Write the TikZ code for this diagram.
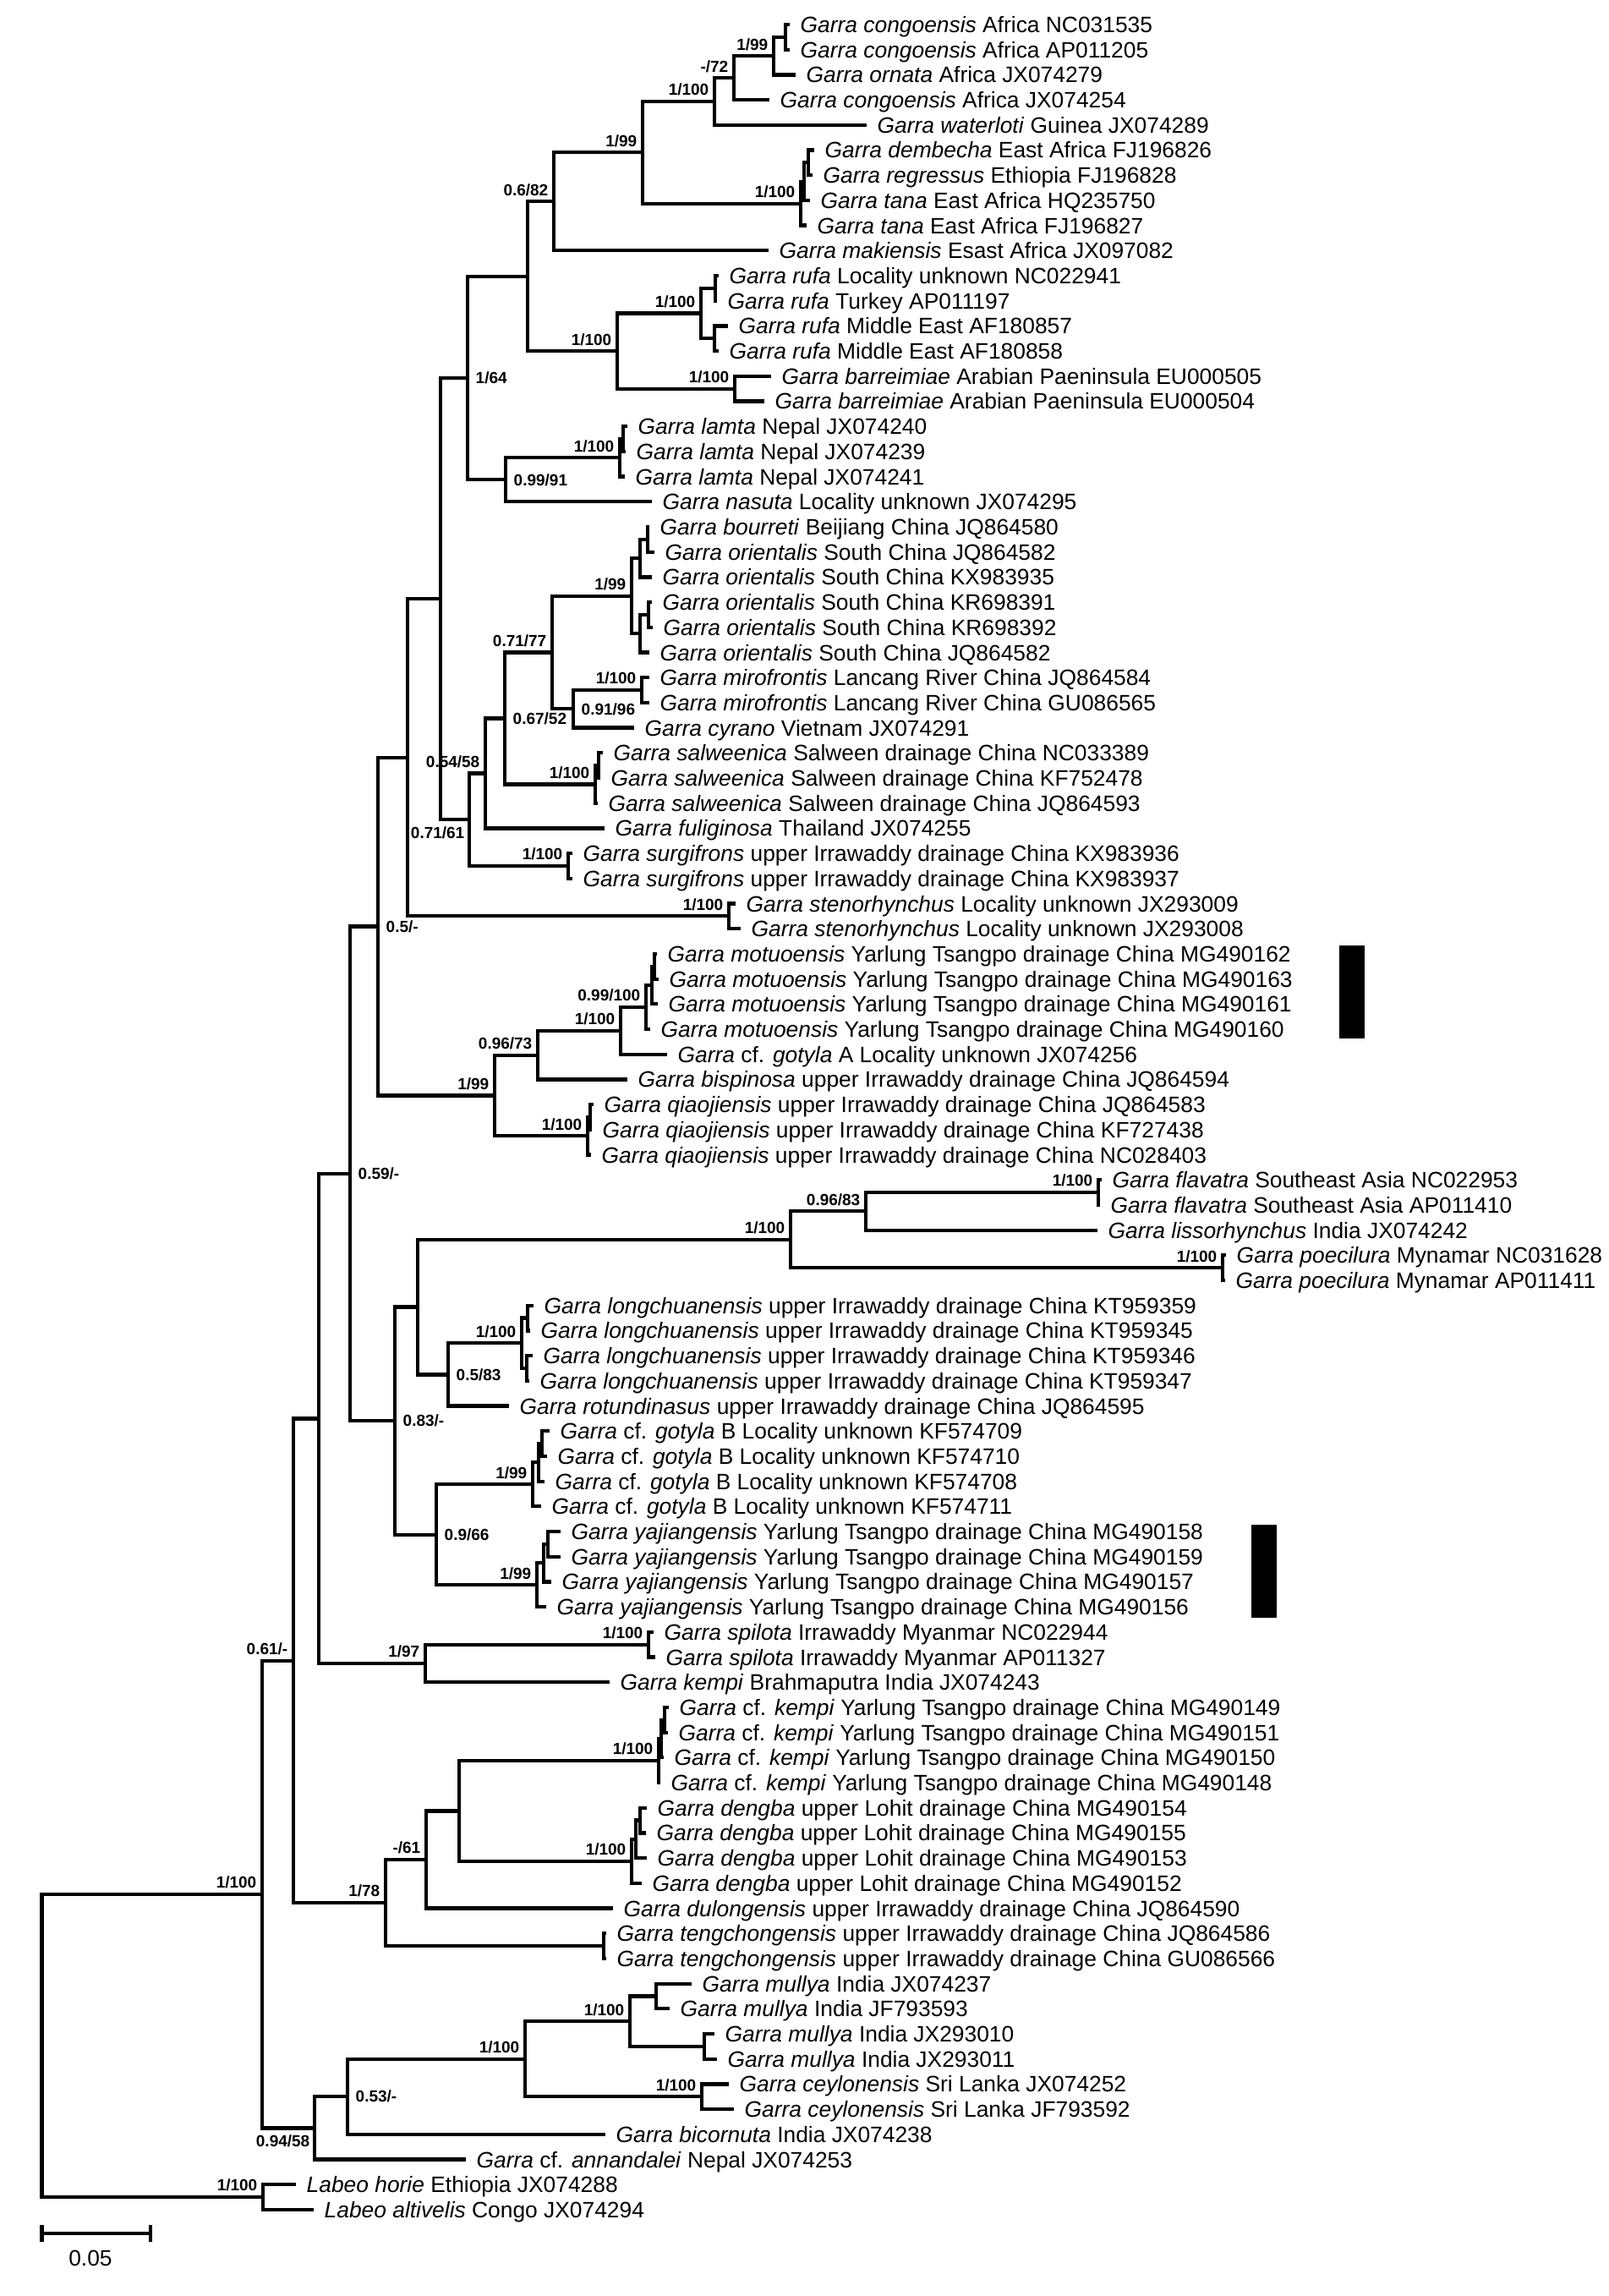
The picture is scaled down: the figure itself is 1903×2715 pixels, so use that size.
\documentclass[tikz,border=0pt]{standalone}
\usepackage{fontspec}
\setmainfont{Liberation Sans}
\usetikzlibrary{positioning, calc}

% innerer Knoten: x fest, y in der Mitte der beiden Kinder
\newcommand{\inode}[4]{\path let \p1=($(#3)!0.5!(#4)$) in ({#2*0.01cm},\y1) coordinate (#1);}

\begin{document}
\begin{tikzpicture}[
    x=0.01cm, y=-0.01cm,
    branch/.style={line width=1.2pt},
    taxon/.style={inner sep=0pt, text height=5.6pt, text depth=0.2pt, font=\fontsize{7.5}{9}\selectfont},
    sup/.style={inner sep=0pt, font=\fontsize{5.4}{6}\selectfont\bfseries},
    supl/.style={sup, anchor=south east, xshift=-0.6mm, yshift=0.6mm},
    supr/.style={sup, anchor=west, xshift=0.9mm},
    supb/.style={sup, anchor=north east, xshift=-0.5mm, yshift=-0.8mm},
    tagbar/.style={fill=black, inner sep=0pt, minimum width=0.3cm, minimum height=1.1cm}
]
\useasboundingbox (0,0) rectangle (1903,2715);

% Blätter
\coordinate (t01) at (934,29.0);
\node[taxon, right=1.2mm of t01] (l01) {\textit{Garra congoensis} Africa NC031535};
\coordinate (t02) at (934,58.7);
\node[taxon, right=1.2mm of t02] (l02) {\textit{Garra congoensis} Africa AP011205};
\coordinate (t03) at (941,88.4);
\node[taxon, right=1.2mm of t03] (l03) {\textit{Garra ornata} Africa JX074279};
\coordinate (t04) at (910,118.1);
\node[taxon, right=1.2mm of t04] (l04) {\textit{Garra congoensis} Africa JX074254};
\coordinate (t05) at (1025,147.8);
\node[taxon, right=1.2mm of t05] (l05) {\textit{Garra waterloti} Guinea JX074289};
\coordinate (t06) at (963,177.5);
\node[taxon, right=1.2mm of t06] (l06) {\textit{Garra dembecha} East Africa FJ196826};
\coordinate (t07) at (961,207.2);
\node[taxon, right=1.2mm of t07] (l07) {\textit{Garra regressus} Ethiopia FJ196828};
\coordinate (t08) at (958,236.9);
\node[taxon, right=1.2mm of t08] (l08) {\textit{Garra tana} East Africa HQ235750};
\coordinate (t09) at (954,266.6);
\node[taxon, right=1.2mm of t09] (l09) {\textit{Garra tana} East Africa FJ196827};
\coordinate (t10) at (909,296.3);
\node[taxon, right=1.2mm of t10] (l10) {\textit{Garra makiensis} Esast Africa JX097082};
\coordinate (t11) at (850,326.0);
\node[taxon, right=1.2mm of t11] (l11) {\textit{Garra rufa} Locality unknown NC022941};
\coordinate (t12) at (848,355.7);
\node[taxon, right=1.2mm of t12] (l12) {\textit{Garra rufa} Turkey AP011197};
\coordinate (t13) at (861,385.4);
\node[taxon, right=1.2mm of t13] (l13) {\textit{Garra rufa} Middle East AF180857};
\coordinate (t14) at (850,415.1);
\node[taxon, right=1.2mm of t14] (l14) {\textit{Garra rufa} Middle East AF180858};
\coordinate (t15) at (912,444.8);
\node[taxon, right=1.2mm of t15] (l15) {\textit{Garra barreimiae} Arabian Paeninsula EU000505};
\coordinate (t16) at (904,474.5);
\node[taxon, right=1.2mm of t16] (l16) {\textit{Garra barreimiae} Arabian Paeninsula EU000504};
\coordinate (t17) at (742,504.2);
\node[taxon, right=1.2mm of t17] (l17) {\textit{Garra lamta} Nepal JX074240};
\coordinate (t18) at (740,533.9);
\node[taxon, right=1.2mm of t18] (l18) {\textit{Garra lamta} Nepal JX074239};
\coordinate (t19) at (739,563.6);
\node[taxon, right=1.2mm of t19] (l19) {\textit{Garra lamta} Nepal JX074241};
\coordinate (t20) at (771,593.3);
\node[taxon, right=1.2mm of t20] (l20) {\textit{Garra nasuta} Locality unknown JX074295};
\coordinate (t21) at (768,623.0);
\node[taxon, right=1.2mm of t21] (l21) {\textit{Garra bourreti} Beijiang China JQ864580};
\coordinate (t22) at (774,652.7);
\node[taxon, right=1.2mm of t22] (l22) {\textit{Garra orientalis} South China JQ864582};
\coordinate (t23) at (771,682.4);
\node[taxon, right=1.2mm of t23] (l23) {\textit{Garra orientalis} South China KX983935};
\coordinate (t24) at (771,712.1);
\node[taxon, right=1.2mm of t24] (l24) {\textit{Garra orientalis} South China KR698391};
\coordinate (t25) at (772,741.8);
\node[taxon, right=1.2mm of t25] (l25) {\textit{Garra orientalis} South China KR698392};
\coordinate (t26) at (768,771.5);
\node[taxon, right=1.2mm of t26] (l26) {\textit{Garra orientalis} South China JQ864582};
\coordinate (t27) at (768,801.2);
\node[taxon, right=1.2mm of t27] (l27) {\textit{Garra mirofrontis} Lancang River China JQ864584};
\coordinate (t28) at (768,830.9);
\node[taxon, right=1.2mm of t28] (l28) {\textit{Garra mirofrontis} Lancang River China GU086565};
\coordinate (t29) at (750,860.6);
\node[taxon, right=1.2mm of t29] (l29) {\textit{Garra cyrano} Vietnam JX074291};
\coordinate (t30) at (713,890.3);
\node[taxon, right=1.2mm of t30] (l30) {\textit{Garra salweenica} Salween drainage China NC033389};
\coordinate (t31) at (710,920.0);
\node[taxon, right=1.2mm of t31] (l31) {\textit{Garra salweenica} Salween drainage China KF752478};
\coordinate (t32) at (707,949.7);
\node[taxon, right=1.2mm of t32] (l32) {\textit{Garra salweenica} Salween drainage China JQ864593};
\coordinate (t33) at (715,979.4);
\node[taxon, right=1.2mm of t33] (l33) {\textit{Garra fuliginosa} Thailand JX074255};
\coordinate (t34) at (677,1009.1);
\node[taxon, right=1.2mm of t34] (l34) {\textit{Garra surgifrons} upper Irrawaddy drainage China KX983936};
\coordinate (t35) at (677,1038.8);
\node[taxon, right=1.2mm of t35] (l35) {\textit{Garra surgifrons} upper Irrawaddy drainage China KX983937};
\coordinate (t36) at (870,1068.5);
\node[taxon, right=1.2mm of t36] (l36) {\textit{Garra stenorhynchus} Locality unknown JX293009};
\coordinate (t37) at (876,1098.2);
\node[taxon, right=1.2mm of t37] (l37) {\textit{Garra stenorhynchus} Locality unknown JX293008};
\coordinate (t38) at (777,1127.9);
\node[taxon, right=1.2mm of t38] (l38) {\textit{Garra motuoensis} Yarlung Tsangpo drainage China MG490162};
\coordinate (t39) at (779,1157.6);
\node[taxon, right=1.2mm of t39] (l39) {\textit{Garra motuoensis} Yarlung Tsangpo drainage China MG490163};
\coordinate (t40) at (778,1187.3);
\node[taxon, right=1.2mm of t40] (l40) {\textit{Garra motuoensis} Yarlung Tsangpo drainage China MG490161};
\coordinate (t41) at (769,1217.0);
\node[taxon, right=1.2mm of t41] (l41) {\textit{Garra motuoensis} Yarlung Tsangpo drainage China MG490160};
\coordinate (t42) at (789,1246.7);
\node[taxon, right=1.2mm of t42] (l42) {\textit{Garra} cf. \textit{gotyla} A Locality unknown JX074256};
\coordinate (t43) at (742,1276.4);
\node[taxon, right=1.2mm of t43] (l43) {\textit{Garra bispinosa} upper Irrawaddy drainage China JQ864594};
\coordinate (t44) at (702,1306.1);
\node[taxon, right=1.2mm of t44] (l44) {\textit{Garra qiaojiensis} upper Irrawaddy drainage China JQ864583};
\coordinate (t45) at (700,1335.8);
\node[taxon, right=1.2mm of t45] (l45) {\textit{Garra qiaojiensis} upper Irrawaddy drainage China KF727438};
\coordinate (t46) at (699,1365.5);
\node[taxon, right=1.2mm of t46] (l46) {\textit{Garra qiaojiensis} upper Irrawaddy drainage China NC028403};
\coordinate (t47) at (1303,1395.2);
\node[taxon, right=1.2mm of t47] (l47) {\textit{Garra flavatra} Southeast Asia NC022953};
\coordinate (t48) at (1301,1424.9);
\node[taxon, right=1.2mm of t48] (l48) {\textit{Garra flavatra} Southeast Asia AP011410};
\coordinate (t49) at (1298,1454.6);
\node[taxon, right=1.2mm of t49] (l49) {\textit{Garra lissorhynchus} India JX074242};
\coordinate (t50) at (1450,1484.3);
\node[taxon, right=1.2mm of t50] (l50) {\textit{Garra poecilura} Mynamar NC031628};
\coordinate (t51) at (1449,1514.0);
\node[taxon, right=1.2mm of t51] (l51) {\textit{Garra poecilura} Mynamar AP011411};
\coordinate (t52) at (631,1543.7);
\node[taxon, right=1.2mm of t52] (l52) {\textit{Garra longchuanensis} upper Irrawaddy drainage China KT959359};
\coordinate (t53) at (627,1573.4);
\node[taxon, right=1.2mm of t53] (l53) {\textit{Garra longchuanensis} upper Irrawaddy drainage China KT959345};
\coordinate (t54) at (630,1603.1);
\node[taxon, right=1.2mm of t54] (l54) {\textit{Garra longchuanensis} upper Irrawaddy drainage China KT959346};
\coordinate (t55) at (626,1632.8);
\node[taxon, right=1.2mm of t55] (l55) {\textit{Garra longchuanensis} upper Irrawaddy drainage China KT959347};
\coordinate (t56) at (602,1662.5);
\node[taxon, right=1.2mm of t56] (l56) {\textit{Garra rotundinasus} upper Irrawaddy drainage China JQ864595};
\coordinate (t57) at (650,1692.2);
\node[taxon, right=1.2mm of t57] (l57) {\textit{Garra} cf. \textit{gotyla} B Locality unknown KF574709};
\coordinate (t58) at (647,1721.9);
\node[taxon, right=1.2mm of t58] (l58) {\textit{Garra} cf. \textit{gotyla} B Locality unknown KF574710};
\coordinate (t59) at (644,1751.6);
\node[taxon, right=1.2mm of t59] (l59) {\textit{Garra} cf. \textit{gotyla} B Locality unknown KF574708};
\coordinate (t60) at (640,1781.3);
\node[taxon, right=1.2mm of t60] (l60) {\textit{Garra} cf. \textit{gotyla} B Locality unknown KF574711};
\coordinate (t61) at (663,1811.0);
\node[taxon, right=1.2mm of t61] (l61) {\textit{Garra yajiangensis} Yarlung Tsangpo drainage China MG490158};
\coordinate (t62) at (663,1840.7);
\node[taxon, right=1.2mm of t62] (l62) {\textit{Garra yajiangensis} Yarlung Tsangpo drainage China MG490159};
\coordinate (t63) at (652,1870.4);
\node[taxon, right=1.2mm of t63] (l63) {\textit{Garra yajiangensis} Yarlung Tsangpo drainage China MG490157};
\coordinate (t64) at (646,1900.1);
\node[taxon, right=1.2mm of t64] (l64) {\textit{Garra yajiangensis} Yarlung Tsangpo drainage China MG490156};
\coordinate (t65) at (773,1929.8);
\node[taxon, right=1.2mm of t65] (l65) {\textit{Garra spilota} Irrawaddy Myanmar NC022944};
\coordinate (t66) at (775,1959.5);
\node[taxon, right=1.2mm of t66] (l66) {\textit{Garra spilota} Irrawaddy Myanmar AP011327};
\coordinate (t67) at (721,1989.2);
\node[taxon, right=1.2mm of t67] (l67) {\textit{Garra kempi} Brahmaputra India JX074243};
\coordinate (t68) at (791,2018.9);
\node[taxon, right=1.2mm of t68] (l68) {\textit{Garra} cf. \textit{kempi} Yarlung Tsangpo drainage China MG490149};
\coordinate (t69) at (790,2048.6);
\node[taxon, right=1.2mm of t69] (l69) {\textit{Garra} cf. \textit{kempi} Yarlung Tsangpo drainage China MG490151};
\coordinate (t70) at (785,2078.3);
\node[taxon, right=1.2mm of t70] (l70) {\textit{Garra} cf. \textit{kempi} Yarlung Tsangpo drainage China MG490150};
\coordinate (t71) at (781,2108.0);
\node[taxon, right=1.2mm of t71] (l71) {\textit{Garra} cf. \textit{kempi} Yarlung Tsangpo drainage China MG490148};
\coordinate (t72) at (765,2137.7);
\node[taxon, right=1.2mm of t72] (l72) {\textit{Garra dengba} upper Lohit drainage China MG490154};
\coordinate (t73) at (764,2167.4);
\node[taxon, right=1.2mm of t73] (l73) {\textit{Garra dengba} upper Lohit drainage China MG490155};
\coordinate (t74) at (765,2197.1);
\node[taxon, right=1.2mm of t74] (l74) {\textit{Garra dengba} upper Lohit drainage China MG490153};
\coordinate (t75) at (759,2226.8);
\node[taxon, right=1.2mm of t75] (l75) {\textit{Garra dengba} upper Lohit drainage China MG490152};
\coordinate (t76) at (725,2256.5);
\node[taxon, right=1.2mm of t76] (l76) {\textit{Garra dulongensis} upper Irrawaddy drainage China JQ864590};
\coordinate (t77) at (717,2286.2);
\node[taxon, right=1.2mm of t77] (l77) {\textit{Garra tengchongensis} upper Irrawaddy drainage China JQ864586};
\coordinate (t78) at (717,2315.9);
\node[taxon, right=1.2mm of t78] (l78) {\textit{Garra tengchongensis} upper Irrawaddy drainage China GU086566};
\coordinate (t79) at (818,2345.6);
\node[taxon, right=1.2mm of t79] (l79) {\textit{Garra mullya} India JX074237};
\coordinate (t80) at (792,2375.3);
\node[taxon, right=1.2mm of t80] (l80) {\textit{Garra mullya} India JF793593};
\coordinate (t81) at (845,2405.0);
\node[taxon, right=1.2mm of t81] (l81) {\textit{Garra mullya} India JX293010};
\coordinate (t82) at (848,2434.7);
\node[taxon, right=1.2mm of t82] (l82) {\textit{Garra mullya} India JX293011};
\coordinate (t83) at (862,2464.4);
\node[taxon, right=1.2mm of t83] (l83) {\textit{Garra ceylonensis} Sri Lanka JX074252};
\coordinate (t84) at (868,2494.1);
\node[taxon, right=1.2mm of t84] (l84) {\textit{Garra ceylonensis} Sri Lanka JF793592};
\coordinate (t85) at (716,2523.8);
\node[taxon, right=1.2mm of t85] (l85) {\textit{Garra bicornuta} India JX074238};
\coordinate (t86) at (551,2553.5);
\node[taxon, right=1.2mm of t86] (l86) {\textit{Garra} cf. \textit{annandalei} Nepal JX074253};
\coordinate (t87) at (350,2583.2);
\node[taxon, right=1.2mm of t87] (l87) {\textit{Labeo horie} Ethiopia JX074288};
\coordinate (t88) at (371,2612.9);
\node[taxon, right=1.2mm of t88] (l88) {\textit{Labeo altivelis} Congo JX074294};

% innere Knoten
\inode{cg}{929}{t01}{t02}
\inode{n199c}{915}{cg}{t03}
\inode{n72}{868}{n199c}{t04}
\inode{n100a}{845}{n72}{t05}
\inode{ea3}{956}{t06}{t07}
\inode{ea2}{951}{ea3}{t08}
\inode{ea1}{947}{ea2}{t09}
\inode{n199a}{760}{n100a}{ea1}
\inode{n682}{655}{n199a}{t10}
\inode{ru1}{846}{t11}{t12}
\inode{ru2}{845}{t13}{t14}
\inode{ru}{829}{ru1}{ru2}
\inode{ba}{869}{t15}{t16}
\inode{rb}{730}{ru}{ba}
\inode{n624}{624}{n682}{rb}
\inode{la1}{737}{t17}{t18}
\inode{la}{733}{la1}{t19}
\inode{n9991}{598}{la}{t20}
\inode{n164}{553}{n624}{n9991}
\inode{or1}{766}{t21}{t22}
\inode{or2}{757}{or1}{t23}
\inode{or3}{767}{t24}{t25}
\inode{or4}{757}{or3}{t26}
\inode{or}{747}{or2}{or4}
\inode{mi}{759}{t27}{t28}
\inode{n9196}{678}{mi}{t29}
\inode{n7177}{653}{or}{n9196}
\inode{sa1}{708}{t30}{t31}
\inode{sa}{704}{sa1}{t32}
\inode{n6752}{597}{n7177}{sa}
\inode{n5458}{574}{n6752}{t33}
\inode{su}{672}{t34}{t35}
\inode{n7161}{555}{n5458}{su}
\inode{n521}{521}{n164}{n7161}
\inode{st}{862}{t36}{t37}
\inode{nC}{482}{n521}{st}
\inode{mo1}{774}{t38}{t39}
\inode{mo2}{771}{mo1}{t40}
\inode{mo}{764}{mo2}{t41}
\inode{n100m}{734}{mo}{t42}
\inode{n9673}{636}{n100m}{t43}
\inode{qi1}{698}{t44}{t45}
\inode{qi}{695}{qi1}{t46}
\inode{n199b}{585}{n9673}{qi}
\inode{n05}{447}{nC}{n199b}
\inode{fl}{1299}{t47}{t48}
\inode{n9683}{1024}{fl}{t49}
\inode{po}{1446}{t50}{t51}
\inode{fp}{935}{n9683}{po}
\inode{lo1}{624}{t52}{t53}
\inode{lo2}{623}{t54}{t55}
\inode{lo}{617}{lo1}{lo2}
\inode{n0583}{530}{lo}{t56}
\inode{nB}{494}{fp}{n0583}
\inode{go3}{641}{t57}{t58}
\inode{go2}{637}{go3}{t59}
\inode{go}{630}{go2}{t60}
\inode{ya3}{648}{t61}{t62}
\inode{ya2}{643}{ya3}{t63}
\inode{ya}{635}{ya2}{t64}
\inode{n0966}{516}{go}{ya}
\inode{n083}{467}{nB}{n0966}
\inode{n059}{414}{n05}{n083}
\inode{sp}{767}{t65}{t66}
\inode{n197}{503}{sp}{t67}
\inode{nA}{377}{n059}{n197}
\inode{ke3}{786}{t68}{t69}
\inode{ke2}{782}{ke3}{t70}
\inode{ke}{779}{ke2}{t71}
\inode{de3}{757}{t72}{t73}
\inode{de2}{752}{de3}{t74}
\inode{de}{747}{de2}{t75}
\inode{n543}{543}{ke}{de}
\inode{n61}{504}{n543}{t76}
\inode{te}{714}{t77}{t78}
\inode{n178}{456}{n61}{te}
\inode{n061}{347}{nA}{n178}
\inode{mu1}{776}{t79}{t80}
\inode{mu2}{833}{t81}{t82}
\inode{mu}{745}{mu1}{mu2}
\inode{ce}{830}{t83}{t84}
\inode{n100x}{621}{mu}{ce}
\inode{n053}{411}{n100x}{t85}
\inode{n094}{372}{n053}{t86}
\inode{ingr}{310}{n061}{n094}
\inode{lb}{311}{t87}{t88}
\inode{root}{49.5}{ingr}{lb}

% Kanten
\draw[branch] (t01) -| (cg) |- (t02);
\draw[branch] (cg) -| (n199c) |- (t03);
\draw[branch] (n199c) -| (n72) |- (t04);
\draw[branch] (n72) -| (n100a) |- (t05);
\draw[branch] (t06) -| (ea3) |- (t07);
\draw[branch] (ea3) -| (ea2) |- (t08);
\draw[branch] (ea2) -| (ea1) |- (t09);
\draw[branch] (n100a) -| (n199a) |- (ea1);
\draw[branch] (n199a) -| (n682) |- (t10);
\draw[branch] (t11) -| (ru1) |- (t12);
\draw[branch] (t13) -| (ru2) |- (t14);
\draw[branch] (ru1) -| (ru) |- (ru2);
\draw[branch] (t15) -| (ba) |- (t16);
\draw[branch] (ru) -| (rb) |- (ba);
\draw[branch] (n682) -| (n624) |- (rb);
\draw[branch] (t17) -| (la1) |- (t18);
\draw[branch] (la1) -| (la) |- (t19);
\draw[branch] (la) -| (n9991) |- (t20);
\draw[branch] (n624) -| (n164) |- (n9991);
\draw[branch] (t21) -| (or1) |- (t22);
\draw[branch] (or1) -| (or2) |- (t23);
\draw[branch] (t24) -| (or3) |- (t25);
\draw[branch] (or3) -| (or4) |- (t26);
\draw[branch] (or2) -| (or) |- (or4);
\draw[branch] (t27) -| (mi) |- (t28);
\draw[branch] (mi) -| (n9196) |- (t29);
\draw[branch] (or) -| (n7177) |- (n9196);
\draw[branch] (t30) -| (sa1) |- (t31);
\draw[branch] (sa1) -| (sa) |- (t32);
\draw[branch] (n7177) -| (n6752) |- (sa);
\draw[branch] (n6752) -| (n5458) |- (t33);
\draw[branch] (t34) -| (su) |- (t35);
\draw[branch] (n5458) -| (n7161) |- (su);
\draw[branch] (n164) -| (n521) |- (n7161);
\draw[branch] (t36) -| (st) |- (t37);
\draw[branch] (n521) -| (nC) |- (st);
\draw[branch] (t38) -| (mo1) |- (t39);
\draw[branch] (mo1) -| (mo2) |- (t40);
\draw[branch] (mo2) -| (mo) |- (t41);
\draw[branch] (mo) -| (n100m) |- (t42);
\draw[branch] (n100m) -| (n9673) |- (t43);
\draw[branch] (t44) -| (qi1) |- (t45);
\draw[branch] (qi1) -| (qi) |- (t46);
\draw[branch] (n9673) -| (n199b) |- (qi);
\draw[branch] (nC) -| (n05) |- (n199b);
\draw[branch] (t47) -| (fl) |- (t48);
\draw[branch] (fl) -| (n9683) |- (t49);
\draw[branch] (t50) -| (po) |- (t51);
\draw[branch] (n9683) -| (fp) |- (po);
\draw[branch] (t52) -| (lo1) |- (t53);
\draw[branch] (t54) -| (lo2) |- (t55);
\draw[branch] (lo1) -| (lo) |- (lo2);
\draw[branch] (lo) -| (n0583) |- (t56);
\draw[branch] (fp) -| (nB) |- (n0583);
\draw[branch] (t57) -| (go3) |- (t58);
\draw[branch] (go3) -| (go2) |- (t59);
\draw[branch] (go2) -| (go) |- (t60);
\draw[branch] (t61) -| (ya3) |- (t62);
\draw[branch] (ya3) -| (ya2) |- (t63);
\draw[branch] (ya2) -| (ya) |- (t64);
\draw[branch] (go) -| (n0966) |- (ya);
\draw[branch] (nB) -| (n083) |- (n0966);
\draw[branch] (n05) -| (n059) |- (n083);
\draw[branch] (t65) -| (sp) |- (t66);
\draw[branch] (sp) -| (n197) |- (t67);
\draw[branch] (n059) -| (nA) |- (n197);
\draw[branch] (t68) -| (ke3) |- (t69);
\draw[branch] (ke3) -| (ke2) |- (t70);
\draw[branch] (ke2) -| (ke) |- (t71);
\draw[branch] (t72) -| (de3) |- (t73);
\draw[branch] (de3) -| (de2) |- (t74);
\draw[branch] (de2) -| (de) |- (t75);
\draw[branch] (ke) -| (n543) |- (de);
\draw[branch] (n543) -| (n61) |- (t76);
\draw[branch] (t77) -| (te) |- (t78);
\draw[branch] (n61) -| (n178) |- (te);
\draw[branch] (nA) -| (n061) |- (n178);
\draw[branch] (t79) -| (mu1) |- (t80);
\draw[branch] (t81) -| (mu2) |- (t82);
\draw[branch] (mu1) -| (mu) |- (mu2);
\draw[branch] (t83) -| (ce) |- (t84);
\draw[branch] (mu) -| (n100x) |- (ce);
\draw[branch] (n100x) -| (n053) |- (t85);
\draw[branch] (n053) -| (n094) |- (t86);
\draw[branch] (n061) -| (ingr) |- (n094);
\draw[branch] (t87) -| (lb) |- (t88);
\draw[branch] (ingr) -| (root) |- (lb);

% Stützwerte
\node[supl] (s-n199c) at (n199c) {1/99};
\node[supl] (s-n72) at (n72) {-/72};
\node[supl] (s-n100a) at (n100a) {1/100};
\node[supl] (s-n199a) at (n199a) {1/99};
\node[supl] (s-ea1) at (ea1) {1/100};
\node[supl] (s-n682) at (n682) {0.6/82};
\node[supl] (s-rb) at (rb) {1/100};
\node[supl] (s-ru) at (ru) {1/100};
\node[supl] (s-ba) at (ba) {1/100};
\node[supl] (s-la) at (la) {1/100};
\node[supr] (s-n164) at (n164) {1/64};
\node[supr] (s-n9991) at (n9991) {0.99/91};
\node[supl] (s-or) at (or) {1/99};
\node[supl] (s-n7177) at (n7177) {0.71/77};
\node[supl] (s-mi) at (mi) {1/100};
\node[supr] (s-n9196) at (n9196) {0.91/96};
\node[supr] (s-n6752) at (n6752) {0.67/52};
\node[supl] (s-sa) at (sa) {1/100};
\node[supl] (s-n5458) at (n5458) {0.54/58};
\node[supb] (s-n7161) at (n7161) {0.71/61};
\node[supl] (s-su) at (su) {1/100};
\node[supl] (s-st) at (st) {1/100};
\node[supr] (s-n05) at (n05) {0.5/-};
\node[supl] (s-mo) at (mo) {0.99/100};
\node[supl] (s-n100m) at (n100m) {1/100};
\node[supl] (s-n9673) at (n9673) {0.96/73};
\node[supl] (s-n199b) at (n199b) {1/99};
\node[supl] (s-qi) at (qi) {1/100};
\node[supr] (s-n059) at (n059) {0.59/-};
\node[supl] (s-fp) at (fp) {1/100};
\node[supl] (s-n9683) at (n9683) {0.96/83};
\node[supl] (s-fl) at (fl) {1/100};
\node[supl] (s-po) at (po) {1/100};
\node[supl] (s-lo) at (lo) {1/100};
\node[supr] (s-n0583) at (n0583) {0.5/83};
\node[supr] (s-n083) at (n083) {0.83/-};
\node[supl] (s-go) at (go) {1/99};
\node[supr] (s-n0966) at (n0966) {0.9/66};
\node[supl] (s-ya) at (ya) {1/99};
\node[supl] (s-sp) at (sp) {1/100};
\node[supl] (s-n197) at (n197) {1/97};
\node[supl] (s-n061) at (n061) {0.61/-};
\node[supl] (s-ke) at (ke) {1/100};
\node[supl] (s-de) at (de) {1/100};
\node[supl] (s-n61) at (n61) {-/61};
\node[supl] (s-n178) at (n178) {1/78};
\node[supl] (s-ingr) at (ingr) {1/100};
\node[supl] (s-mu) at (mu) {1/100};
\node[supl] (s-ce) at (ce) {1/100};
\node[supl] (s-n100x) at (n100x) {1/100};
\node[supr] (s-n053) at (n053) {0.53/-};
\node[supb] (s-n094) at (n094) {0.94/58};
\node[supl] (s-lb) at (lb) {1/100};

% Markierungen
\node[tagbar] (bar1) at (1599,1173) {};
\node[tagbar] (bar2) at (1494.5,1858) {};

% Massstab
\coordinate (sb0) at (49.5,2641);
\coordinate (sb1) at (178,2641);
\draw[branch] (sb0) -- (sb1);
\draw[branch] ([yshift=1mm]sb0) -- ([yshift=-1mm]sb0);
\draw[branch] ([yshift=1mm]sb1) -- ([yshift=-1mm]sb1);
\node[taxon] (sbl) at (107,2670) {0.05};

\end{tikzpicture}
\end{document}
